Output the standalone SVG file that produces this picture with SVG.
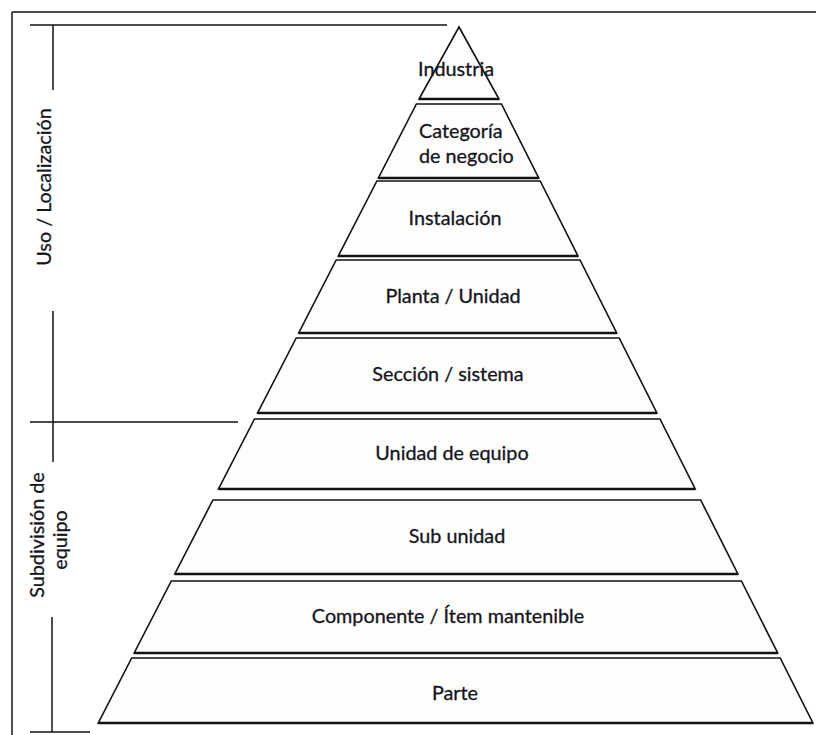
<svg xmlns="http://www.w3.org/2000/svg" width="816" height="735" viewBox="0 0 816 735">
  <style>
    .band { fill: #fdfdfc; stroke: #111; stroke-width: 1.6; stroke-linejoin: miter; }
    .base { stroke: #111; stroke-width: 2.4; }
    .lbl { font-family: Lato, "Open Sans", "Liberation Sans", sans-serif; font-size: 19.8px; fill: #15151c; stroke: #15151c; stroke-width: 0.3; }
    .mid { text-anchor: middle; }
    .rule { stroke: #111; stroke-width: 1.5; fill: none; }
  </style>
  <rect x="0" y="0" width="816" height="735" fill="#ffffff"/>

  <!-- frame -->
  <g id="frame">
    <line class="rule" x1="12" y1="12" x2="816" y2="12" stroke-width="2"/>
    <line class="rule" x1="12" y1="12" x2="12" y2="735" stroke-width="2"/>
  </g>

  <!-- side brackets -->
  <g id="brackets">
    <line class="rule" x1="30" y1="25" x2="447" y2="25"/>
    <line class="rule" x1="53" y1="25" x2="53" y2="90"/>
    <line class="rule" x1="53" y1="311" x2="53" y2="462"/>
    <line class="rule" x1="30" y1="422" x2="238" y2="422"/>
    <line class="rule" x1="52" y1="617" x2="52" y2="732"/>
    <line class="rule" x1="30" y1="732" x2="90" y2="732"/>
  </g>

  <g id="group-uso">
    <text class="lbl mid" transform="translate(51 187) rotate(-90)">Uso / Localización</text>
  </g>
  <g id="group-subdivision">
    <text class="lbl mid" transform="translate(44 535) rotate(-90)">Subdivisión de</text>
    <text class="lbl mid" transform="translate(67 540) rotate(-90)">equipo</text>
  </g>

  <!-- pyramid levels -->
  <g id="level-industria">
    <polygon class="band" points="459,27 499,99 419,99"/>
    <line class="base" x1="419" y1="99" x2="499" y2="99"/>
    <text class="lbl mid" x="456" y="76">Industria</text>
  </g>
  <g id="level-categoria">
    <polygon class="band" points="416.4,104 501.5,104 538.7,178 378.4,178"/>
    <line class="base" x1="378.4" y1="178" x2="538.7" y2="178"/>
    <text class="lbl" x="419" y="138">Categoría</text>
    <text class="lbl" x="419" y="163">de negocio</text>
  </g>
  <g id="level-instalacion">
    <polygon class="band" points="376.9,181 540.2,181 578,256 338.3,256"/>
    <line class="base" x1="338.3" y1="256" x2="578" y2="256"/>
    <text class="lbl mid" x="455" y="225">Instalación</text>
  </g>
  <g id="level-planta">
    <polygon class="band" points="336.2,260 580,260 616.7,333 298.7,333"/>
    <line class="base" x1="298.7" y1="333" x2="616.7" y2="333"/>
    <text class="lbl mid" x="453" y="303">Planta / Unidad</text>
  </g>
  <g id="level-seccion">
    <polygon class="band" points="296.2,338 619.2,338 656.9,413 257.6,413"/>
    <line class="base" x1="257.6" y1="413" x2="656.9" y2="413"/>
    <text class="lbl mid" x="448" y="381">Sección / sistema</text>
  </g>
  <g id="level-unidad-equipo">
    <polygon class="band" points="254.5,419 660,419 695.2,489 218.5,489"/>
    <line class="base" x1="218.5" y1="489" x2="695.2" y2="489"/>
    <text class="lbl mid" x="452" y="460">Unidad de equipo</text>
  </g>
  <g id="level-sub-unidad">
    <polygon class="band" points="212.9,500 700.7,500 737.9,574 174.8,574"/>
    <line class="base" x1="174.8" y1="574" x2="737.9" y2="574"/>
    <text class="lbl mid" x="457" y="543">Sub unidad</text>
  </g>
  <g id="level-componente">
    <polygon class="band" points="171.3,581 741.4,581 777.7,653 134.2,653"/>
    <line class="base" x1="134.2" y1="653" x2="777.7" y2="653"/>
    <text class="lbl mid" x="448" y="623">Componente / Ítem mantenible</text>
  </g>
  <g id="level-parte">
    <polygon class="band" points="131.7,658 780.2,658 812.9,723 98.3,723"/>
    <line class="base" x1="98.3" y1="723" x2="812.9" y2="723"/>
    <text class="lbl mid" x="455" y="700">Parte</text>
  </g>
</svg>
